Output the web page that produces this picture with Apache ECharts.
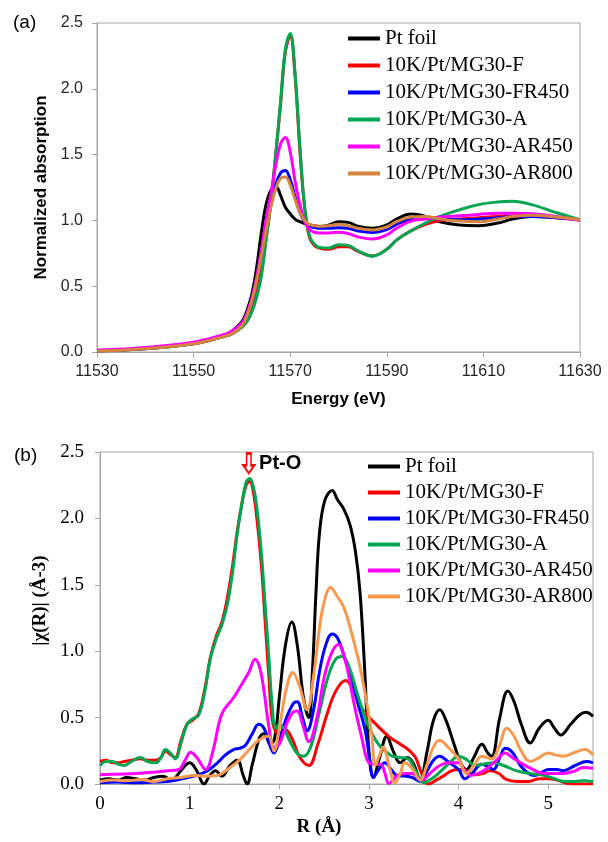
<!DOCTYPE html>
<html>
<head>
<meta charset="utf-8">
<script src="https://cdn.jsdelivr.net/npm/echarts@6/dist/echarts.min.js"></script>
<style>
html,body{margin:0;padding:0;background:#fff;}
#a{position:absolute;left:0;top:0;width:608px;height:430px;}
#b{position:absolute;left:0;top:430px;width:608px;height:412px;}
</style>
</head>
<body>
<div id="a"></div>
<div id="b"></div>
<script>
// ---------- (a) XANES data ----------
const seriesNames = ['Pt foil','10K/Pt/MG30-F','10K/Pt/MG30-FR450','10K/Pt/MG30-A','10K/Pt/MG30-AR450','10K/Pt/MG30-AR800'];
const energy = [11530,11535,11540,11545,11550,11553,11556,11558,11560,11561,11562,11563,11564,11565,11566,11567,11568,11569,11570,11571,11572,11573,11574,11575,11576,11578,11580,11582,11584,11587,11590,11592,11595,11598,11601,11605,11609,11613,11616,11620,11625,11630];
const xanesFoil = [0.01,0.015,0.025,0.04,0.062,0.085,0.12,0.16,0.23,0.31,0.43,0.63,0.90,1.12,1.23,1.26,1.19,1.10,1.05,1.01,0.99,0.975,0.965,0.958,0.954,0.965,0.99,0.985,0.955,0.94,0.965,1.01,1.048,1.03,0.99,0.965,0.96,0.98,1.01,1.03,1.025,1.005];
const xanesF = [0.01,0.015,0.026,0.042,0.064,0.088,0.115,0.14,0.19,0.23,0.31,0.43,0.61,0.86,1.13,1.5,1.88,2.28,2.40,2.10,1.54,1.09,0.87,0.81,0.79,0.78,0.80,0.80,0.765,0.73,0.78,0.85,0.92,0.97,1.0,1.01,1.02,1.03,1.035,1.035,1.02,1.005];
const xanesFR450 = [0.01,0.016,0.028,0.045,0.066,0.09,0.12,0.145,0.2,0.27,0.38,0.53,0.72,0.93,1.12,1.27,1.36,1.38,1.31,1.18,1.06,0.99,0.96,0.945,0.94,0.94,0.945,0.94,0.92,0.908,0.93,0.97,1.01,1.02,1.01,1.005,1.01,1.02,1.03,1.03,1.02,1.005];
const xanesA = [0.01,0.015,0.026,0.042,0.064,0.088,0.115,0.14,0.19,0.23,0.30,0.41,0.57,0.85,1.14,1.5,1.9,2.3,2.42,2.12,1.56,1.1,0.88,0.82,0.795,0.79,0.815,0.81,0.77,0.728,0.78,0.85,0.92,0.98,1.03,1.08,1.12,1.14,1.145,1.12,1.06,1.005];
const xanesAR450 = [0.015,0.022,0.035,0.052,0.075,0.1,0.13,0.16,0.22,0.29,0.40,0.56,0.77,1.0,1.2,1.42,1.58,1.63,1.52,1.30,1.12,0.99,0.93,0.91,0.905,0.905,0.91,0.9,0.875,0.858,0.89,0.94,0.995,1.01,1.025,1.035,1.045,1.055,1.055,1.05,1.03,1.0];
const xanesAR800 = [0.008,0.013,0.024,0.04,0.062,0.086,0.115,0.14,0.2,0.27,0.38,0.53,0.72,0.92,1.1,1.24,1.32,1.33,1.27,1.16,1.06,1.0,0.97,0.96,0.955,0.96,0.97,0.96,0.94,0.928,0.95,0.99,1.025,1.03,1.01,0.995,0.99,1.01,1.03,1.04,1.025,1.005];
const xanesValues = [xanesFoil, xanesF, xanesFR450, xanesA, xanesAR450, xanesAR800];
const xanesColors = ['#000000','#ff0000','#0000ff','#00a651','#ff00ff','#d4843f'];

// ---------- (b) FT-EXAFS data ----------
const foilR = [0,0.1,0.2,0.3,0.4,0.5,0.6,0.7,0.8,0.9,1.0,1.08,1.16,1.22,1.29,1.36,1.45,1.53,1.6,1.64,1.7,1.78,1.83,1.9,1.95,2.0,2.07,2.14,2.2,2.27,2.33,2.37,2.41,2.45,2.51,2.59,2.65,2.72,2.79,2.85,2.9,2.95,3.0,3.05,3.12,3.2,3.27,3.35,3.43,3.5,3.57,3.65,3.72,3.79,3.86,3.95,4.03,4.09,4.17,4.26,4.33,4.37,4.46,4.55,4.62,4.7,4.8,4.9,5.0,5.07,5.14,5.25,5.35,5.42,5.5];
const foilChi = [0.03,0.04,0.03,0.05,0.04,0.03,0.05,0.06,0.03,0.1,0.16,0.1,0.0,0.06,0.1,0.06,0.14,0.18,0.06,0.0,0.15,0.35,0.38,0.3,0.35,0.65,1.05,1.22,1.05,0.65,0.5,0.85,1.45,1.9,2.14,2.21,2.14,2.07,1.95,1.75,1.45,0.9,0.25,0.05,0.2,0.36,0.25,0.16,0.2,0.15,0.03,0.25,0.48,0.56,0.48,0.3,0.15,0.11,0.2,0.3,0.23,0.21,0.5,0.70,0.62,0.45,0.31,0.42,0.48,0.42,0.37,0.45,0.52,0.54,0.51];
const fR = [0,0.07,0.14,0.2,0.27,0.35,0.45,0.53,0.62,0.68,0.73,0.79,0.84,0.9,0.97,1.03,1.1,1.17,1.23,1.3,1.36,1.42,1.48,1.53,1.58,1.63,1.67,1.71,1.75,1.8,1.84,1.88,1.93,2.0,2.07,2.15,2.23,2.33,2.43,2.53,2.63,2.74,2.83,2.92,3.05,3.22,3.35,3.44,3.52,3.57,3.62,3.66,3.75,3.83,3.92,4.0,4.09,4.18,4.27,4.35,4.45,4.52,4.65,4.78,4.9,5.0,5.1,5.26,5.4,5.5];
const fChi = [0.17,0.18,0.16,0.16,0.17,0.18,0.19,0.18,0.18,0.2,0.25,0.22,0.2,0.32,0.45,0.48,0.53,0.72,0.95,1.12,1.22,1.4,1.65,1.9,2.1,2.25,2.28,2.2,2.0,1.65,1.25,0.85,0.45,0.38,0.41,0.33,0.2,0.14,0.3,0.52,0.7,0.78,0.7,0.57,0.47,0.36,0.3,0.26,0.2,0.11,0.03,0.0,0.03,0.06,0.1,0.11,0.1,0.07,0.08,0.1,0.08,0.04,0.02,0.02,0.04,0.04,0.03,0.0,0.0,0.0];
const fr450R = [0,0.2,0.4,0.6,0.75,0.92,1.05,1.14,1.22,1.31,1.4,1.49,1.56,1.62,1.7,1.77,1.83,1.89,1.94,2.0,2.08,2.16,2.2,2.26,2.31,2.38,2.45,2.52,2.59,2.65,2.72,2.79,2.88,2.96,3.01,3.05,3.1,3.18,3.25,3.31,3.4,3.48,3.57,3.65,3.72,3.79,3.88,4.0,4.07,4.15,4.26,4.33,4.39,4.46,4.52,4.6,4.69,4.78,4.85,4.93,5.0,5.1,5.17,5.3,5.43,5.5];
const fr450Chi = [0.01,0.015,0.01,0.015,0.02,0.04,0.06,0.08,0.11,0.16,0.22,0.26,0.27,0.29,0.38,0.45,0.42,0.3,0.235,0.33,0.5,0.61,0.62,0.5,0.4,0.55,0.85,1.05,1.13,1.1,0.97,0.82,0.6,0.4,0.18,0.05,0.1,0.16,0.11,0.065,0.06,0.05,0.02,0.1,0.18,0.21,0.17,0.11,0.04,0.08,0.15,0.13,0.11,0.2,0.27,0.24,0.14,0.08,0.065,0.09,0.11,0.11,0.1,0.14,0.17,0.16];
const aR = [0,0.07,0.14,0.2,0.27,0.35,0.45,0.53,0.62,0.68,0.73,0.79,0.84,0.9,0.97,1.03,1.1,1.17,1.23,1.3,1.36,1.42,1.48,1.53,1.58,1.63,1.67,1.71,1.75,1.8,1.84,1.88,1.92,1.96,2.0,2.05,2.12,2.2,2.27,2.35,2.45,2.55,2.63,2.7,2.78,2.87,2.96,3.05,3.13,3.2,3.26,3.35,3.44,3.52,3.61,3.7,3.79,3.9,4.0,4.1,4.18,4.28,4.39,4.5,4.65,4.8,4.96,5.07,5.17,5.3,5.4,5.5];
const aChi = [0.14,0.17,0.17,0.15,0.14,0.17,0.2,0.17,0.16,0.2,0.26,0.23,0.19,0.3,0.45,0.49,0.52,0.7,0.94,1.1,1.2,1.35,1.6,1.88,2.1,2.27,2.30,2.24,2.08,1.74,1.37,0.99,0.6,0.42,0.45,0.42,0.32,0.23,0.21,0.28,0.55,0.82,0.94,0.96,0.88,0.68,0.5,0.36,0.28,0.24,0.21,0.2,0.19,0.1,0.01,0.04,0.09,0.16,0.21,0.18,0.14,0.15,0.16,0.14,0.1,0.08,0.065,0.04,0.02,0.02,0.025,0.02];
const ar450R = [0,0.2,0.4,0.6,0.75,0.88,0.95,1.01,1.08,1.18,1.26,1.36,1.49,1.58,1.66,1.73,1.78,1.83,1.88,1.94,2.0,2.08,2.15,2.2,2.26,2.33,2.42,2.5,2.58,2.66,2.74,2.83,2.92,3.0,3.07,3.13,3.18,3.22,3.27,3.31,3.4,3.48,3.59,3.68,3.79,3.9,4.0,4.07,4.13,4.22,4.3,4.41,4.52,4.6,4.69,4.8,4.96,5.07,5.17,5.3,5.39,5.5];
const ar450Chi = [0.07,0.075,0.08,0.09,0.1,0.11,0.18,0.24,0.2,0.11,0.25,0.53,0.65,0.75,0.84,0.94,0.88,0.7,0.45,0.28,0.3,0.45,0.54,0.55,0.45,0.32,0.5,0.8,0.98,1.05,0.92,0.62,0.35,0.16,0.15,0.15,0.08,0.005,0.03,0.065,0.08,0.08,0.03,0.08,0.14,0.16,0.16,0.1,0.065,0.08,0.11,0.17,0.235,0.2,0.16,0.12,0.08,0.08,0.08,0.1,0.125,0.12];
const ar800R = [0,0.15,0.3,0.45,0.6,0.75,0.9,1.05,1.18,1.31,1.44,1.57,1.68,1.77,1.88,1.94,2.0,2.08,2.15,2.22,2.31,2.38,2.46,2.52,2.57,2.64,2.72,2.81,2.92,3.03,3.07,3.12,3.16,3.22,3.29,3.35,3.4,3.48,3.57,3.65,3.72,3.79,3.88,4.0,4.09,4.17,4.26,4.37,4.45,4.54,4.62,4.69,4.8,4.9,5.0,5.08,5.17,5.3,5.41,5.5];
const ar800Chi = [0.02,0.03,0.025,0.035,0.02,0.04,0.05,0.065,0.06,0.065,0.12,0.19,0.27,0.33,0.36,0.25,0.42,0.72,0.84,0.75,0.56,0.8,1.23,1.42,1.48,1.42,1.33,1.13,0.82,0.38,0.14,0.22,0.28,0.15,0.01,0.08,0.16,0.12,0.03,0.15,0.28,0.33,0.28,0.19,0.08,0.14,0.21,0.19,0.28,0.42,0.36,0.26,0.17,0.2,0.235,0.22,0.21,0.24,0.26,0.22];
const exafsR = [foilR, fR, fr450R, aR, ar450R, ar800R];
const exafsChi = [foilChi, fChi, fr450Chi, aChi, ar450Chi, ar800Chi];
const exafsColors = ['#000000','#ff0000','#0000ff','#00a651','#ff00ff','#f79a50'];

const xTicksA = {min:11530, max:11630, interval:20};
const yTicksA = {min:0, max:2.5, interval:0.5};
const xTicksB = {min:0, max:5.5, interval:1};
const yTicksB = {min:0, max:2.5, interval:0.5};

const GREY = '#a6a6a6';
const SANS = '"Liberation Sans", Arial, sans-serif';
const SERIF = '"Liberation Serif", "Times New Roman", serif';

function zip(xs, ys){ return xs.map((x,i)=>[x, ys[i]]); }

// ---------- chart (a) ----------
const chartA = echarts.init(document.getElementById('a'), null, {renderer:'canvas'});
chartA.setOption({
  animation:false,
  backgroundColor:'#fff',
  grid:{left:97, top:23, width:483, height:329, show:true, borderColor:GREY, borderWidth:1, backgroundColor:'transparent'},
  xAxis:{type:'value', min:xTicksA.min, max:xTicksA.max, interval:xTicksA.interval,
    axisLine:{show:true, lineStyle:{color:GREY, width:1}},
    axisTick:{show:true, inside:false, length:5, lineStyle:{color:GREY}},
    splitLine:{show:false},
    axisLabel:{fontFamily:SANS, fontSize:16, color:'#262626', margin:12, formatter:v=>String(v)},
    name:'Energy (eV)', nameLocation:'middle', nameGap:39,
    nameTextStyle:{fontFamily:SANS, fontSize:17, fontWeight:'bold', color:'#000'}},
  yAxis:{type:'value', min:yTicksA.min, max:yTicksA.max, interval:yTicksA.interval,
    axisLine:{show:true, lineStyle:{color:GREY, width:1}},
    axisTick:{show:true, inside:false, length:5, lineStyle:{color:GREY}},
    splitLine:{show:false},
    axisLabel:{fontFamily:SANS, fontSize:16, color:'#262626', margin:14, formatter:v=>v.toFixed(1)},
    name:'Normalized absorption', nameLocation:'middle', nameRotate:90, nameGap:46,
    nameTextStyle:{fontFamily:SANS, fontSize:17, fontWeight:'bold', color:'#000'}},
  legend:{orient:'vertical', left:343, top:23, itemWidth:32, itemHeight:4, itemGap:6, icon:'rect',
    data:seriesNames,
    textStyle:{fontFamily:SERIF, fontSize:21, color:'#000', lineHeight:21}},
  graphic:[{type:'text', left:13, top:13, style:{text:'(a)', font:'19px '+SANS, fill:'#000'}}],
  series:seriesNames.map((n,i)=>({
    name:n, type:'line', smooth:0.4, showSymbol:false, symbol:'none',
    data:zip(energy, xanesValues[i]),
    lineStyle:{color:xanesColors[i], width:3}, itemStyle:{color:xanesColors[i]}
  }))
});

// ---------- chart (b) ----------
const chartB = echarts.init(document.getElementById('b'), null, {renderer:'canvas'});
const seriesB = seriesNames.map((n,i)=>({
  name:n, type:'line', smooth:0.4, showSymbol:false, symbol:'none',
  data:zip(exafsR[i], exafsChi[i]),
  lineStyle:{color:exafsColors[i], width:3}, itemStyle:{color:exafsColors[i]}
}));
// Pt-O annotation on the A series peak
seriesB[3].markPoint = {
  silent:true,
  data:[{coord:[1.66, 2.415], symbol:'path://M3,0 L7,0 L7,12 L10,12 L5,20 L0,12 L3,12 Z', symbolSize:[11,20],
    itemStyle:{color:'#ffffff', borderColor:'#ff0000', borderWidth:2},
    label:{show:true, position:'right', distance:4, formatter:'Pt-O', fontFamily:SANS, fontSize:20, fontWeight:'bold', color:'#000'}}]
};
chartB.setOption({
  animation:false,
  backgroundColor:'#fff',
  grid:{left:100, top:22, width:493, height:344, show:true, borderColor:GREY, borderWidth:1, backgroundColor:'transparent'},
  xAxis:{type:'value', min:xTicksB.min, max:xTicksB.max, interval:xTicksB.interval,
    axisLine:{show:true, lineStyle:{color:GREY, width:1}},
    axisTick:{show:true, inside:false, length:5, lineStyle:{color:GREY}},
    splitLine:{show:false},
    axisLabel:{fontFamily:SERIF, fontSize:19, color:'#000', margin:10, showMaxLabel:false},
    name:'R (Å)', nameLocation:'middle', nameGap:28,
    nameTextStyle:{fontFamily:SERIF, fontSize:19, fontWeight:'bold', color:'#000', padding:[0,55,0,0]}},
  yAxis:{type:'value', min:yTicksB.min, max:yTicksB.max, interval:yTicksB.interval,
    axisLine:{show:true, lineStyle:{color:GREY, width:1}},
    axisTick:{show:true, inside:false, length:5, lineStyle:{color:GREY}},
    splitLine:{show:false},
    axisLabel:{fontFamily:SERIF, fontSize:19, color:'#000', margin:16, formatter:v=>v.toFixed(1)},
    name:'|χ(R)| (Å-3)', nameLocation:'middle', nameRotate:90, nameGap:45,
    nameTextStyle:{fontFamily:SERIF, fontSize:19, fontWeight:'bold', color:'#000', padding:[0,0,0,35]}},
  legend:{orient:'vertical', left:363, top:21, itemWidth:32, itemHeight:4, itemGap:5, icon:'rect',
    data:seriesNames,
    textStyle:{fontFamily:SERIF, fontSize:21, color:'#000', lineHeight:21}},
  graphic:[{type:'text', left:14, top:16, style:{text:'(b)', font:'19px '+SANS, fill:'#000'}}],
  series:seriesB
});
</script>
</body>
</html>
